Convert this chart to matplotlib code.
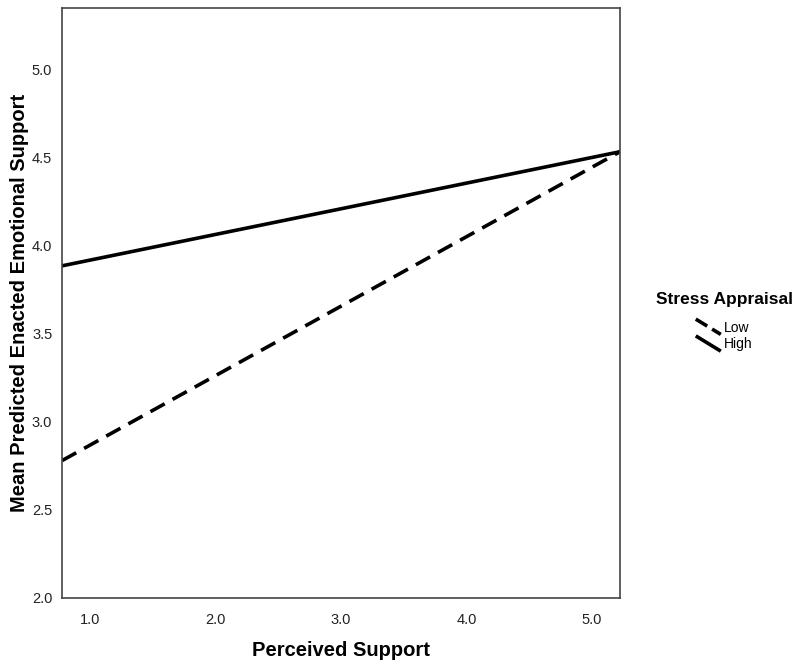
import matplotlib
matplotlib.use("Agg")
import matplotlib.pyplot as plt
from matplotlib.lines import Line2D
from matplotlib.legend_handler import HandlerLine2D

plt.rcParams['font.family'] = ['Liberation Sans', 'DejaVu Sans']

# --- data ---
x_range = [0.777, 5.223]
low_stress = [2.78, 4.534]     # dashed
high_stress = [3.886, 4.534]   # solid
xticks = [1.0, 2.0, 3.0, 4.0, 5.0]
yticks = [2.0, 2.5, 3.0, 3.5, 4.0, 4.5, 5.0]


class DiagonalHandler(HandlerLine2D):
    # short slanted segment like the SPSS legend glyph
    def create_artists(self, legend, orig_handle, xdescent, ydescent,
                       width, height, fontsize, trans):
        ln = Line2D([-xdescent, -xdescent + width],
                    [height + 2, -2],
                    color=orig_handle.get_color(),
                    linewidth=orig_handle.get_linewidth(),
                    linestyle=orig_handle.get_linestyle(),
                    dash_capstyle='butt', solid_capstyle='butt')
        ln.set_transform(trans)
        return [ln]


fig = plt.figure(figsize=(8, 6.68), dpi=100)
ax = fig.add_axes([0.0775, 0.1048, 0.6975, 0.8832])

l_low, = ax.plot(x_range, low_stress, color='black', linewidth=2.6,
                 linestyle=(0, (4.5, 2.5)), dash_capstyle='butt', label='Low')
l_high, = ax.plot(x_range, high_stress, color='black', linewidth=2.6,
                  label='High')

ax.set_xlim(x_range)
ax.set_ylim(2.0, 5.35)
ax.set_xticks(xticks)
ax.set_xticklabels([f'{v:.1f}' for v in xticks])
ax.set_yticks(yticks)
ax.set_yticklabels([f'{v:.1f}' for v in yticks])
ax.tick_params(length=0, labelsize=10.5, colors='#222222')
ax.tick_params(axis='y', pad=7)
ax.tick_params(axis='x', pad=11)
for s in ax.spines.values():
    s.set_color('#444444')
    s.set_linewidth(1.2)

ax.set_xlabel('Perceived Support', fontsize=14.5, fontweight='bold', labelpad=10)
ax.set_ylabel('Mean Predicted Enacted Emotional Support', fontsize=14.5,
              fontweight='bold', labelpad=2)

fig.text(0.906, 0.551, 'Stress Appraisal', ha='center', va='center',
         fontsize=12.5, fontweight='bold')
leg = fig.legend(handles=[l_low, l_high],
                 loc='center', bbox_to_anchor=(0.905, 0.497),
                 frameon=False, fontsize=10, handlelength=1.8,
                 handletextpad=0.2, labelspacing=0.2, borderpad=0,
                 handler_map={Line2D: DiagonalHandler()})

fig.savefig('out.png', dpi=100)
